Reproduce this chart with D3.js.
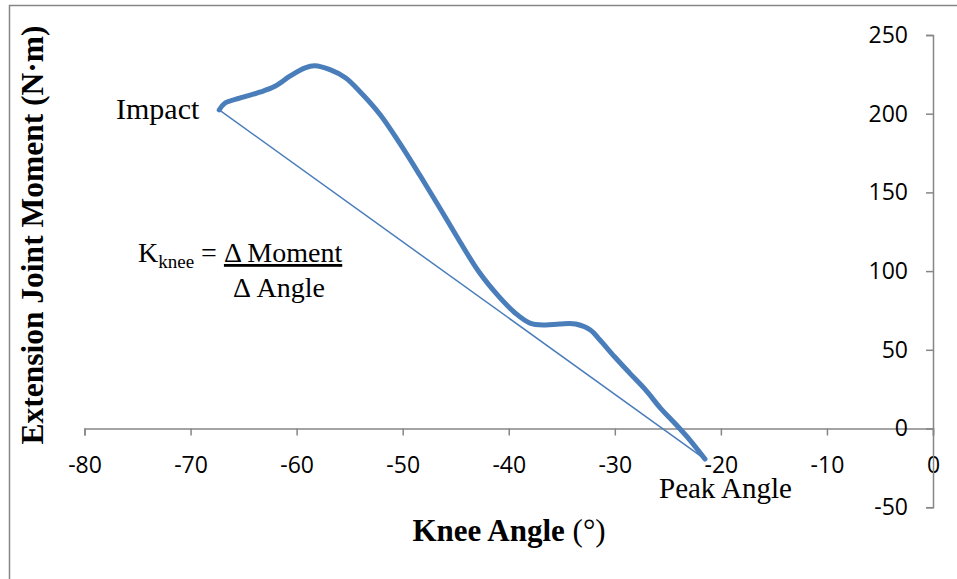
<!DOCTYPE html>
<html>
<head>
<meta charset="utf-8">
<script src="https://cdn.jsdelivr.net/npm/d3@7"></script>
<style>
  html, body { margin: 0; padding: 0; background: #fff; }
  svg { display: block; }
</style>
</head>
<body>
<svg id="chart" width="957" height="579"></svg>
<script>
// ---- data ----
const kneeAngle = [-67.3, -66.8, -65.3, -63.4, -62.0, -60.6, -59.2, -58.3, -56.8, -55.4, -54.0, -52.1, -50.3, -48.4, -46.5, -44.7, -42.8, -40.9, -39.4, -38.0, -36.6, -35.2, -33.7, -32.3, -31.4, -30.0, -28.6, -27.1, -25.7, -24.3, -22.9, -21.5];
const jointMoment = [202.4, 206.5, 210.0, 213.8, 217.6, 224.0, 229.1, 230.4, 227.8, 222.8, 213.8, 199.2, 181.4, 161.1, 140.1, 119.8, 99.4, 83.6, 73.4, 67.0, 65.8, 66.4, 66.4, 62.6, 56.2, 45.4, 35.2, 24.5, 13.0, 3.0, -7.5, -19.4];
const xTicks = [-80, -70, -60, -50, -40, -30, -20, -10, 0];
const yTicks = [-50, 0, 50, 100, 150, 200, 250];
const xTitle = "Knee Angle";
const xTitleUnit = " (°)";
const yTitle = "Extension Joint Moment (N·m)";

const svg = d3.select("#chart");

// outer chart border
svg.append("rect")
  .attr("x", 9.5).attr("y", 5.5)
  .attr("width", 960).attr("height", 590)
  .attr("fill", "none").attr("stroke", "#868686").attr("stroke-width", 1.5);

const x = d3.scaleLinear().domain([-80, 0]).range([84.5, 933]);
const y = d3.scaleLinear().domain([-50, 250]).range([507.2, 35]);

const tickFont = "'Open Sans', 'Liberation Sans', sans-serif";
const axisColor = "#868686";

// x axis at y = 0
const gx = svg.append("g")
  .attr("transform", `translate(0,${y(0)})`)
  .call(d3.axisBottom(x).tickValues(xTicks).tickSize(7).tickPadding(21).tickFormat(d3.format("d")));
// y axis at x = 0
const gy = svg.append("g")
  .attr("transform", `translate(${x(0)},0)`)
  .call(d3.axisLeft(y).tickValues(yTicks).tickSize(7).tickPadding(18).tickFormat(d3.format("d")));

[gx, gy].forEach(g => {
  g.select(".domain").attr("stroke", axisColor).attr("stroke-width", 1.5);
  g.selectAll(".tick line").attr("stroke", axisColor).attr("stroke-width", 1.5);
  g.selectAll(".tick text")
    .attr("fill", "#000")
    .style("font-family", tickFont)
    .style("font-size", "23px");
});
gx.selectAll(".tick text").text(d => String(d));
gy.selectAll(".tick text").text(d => String(d));

// straight secant line from Impact to Peak Angle
const n = kneeAngle.length;
svg.append("line")
  .attr("x1", x(kneeAngle[0])).attr("y1", y(jointMoment[0]))
  .attr("x2", x(kneeAngle[n - 1])).attr("y2", y(jointMoment[n - 1]))
  .attr("stroke", "#4a7ebb").attr("stroke-width", 1.5);

// moment-angle curve
const pts = kneeAngle.map((a, i) => [a, jointMoment[i]]);
svg.append("path")
  .datum(pts)
  .attr("fill", "none")
  .attr("stroke", "#4a7ebb")
  .attr("stroke-width", 5)
  .attr("stroke-linejoin", "round")
  .attr("stroke-linecap", "round")
  .attr("d", d3.line().x(d => x(d[0])).y(d => y(d[1])).curve(d3.curveCatmullRom.alpha(0.5)));

const serif = "'Liberation Serif', 'Times New Roman', serif";

// annotations
svg.append("text")
  .attr("x", 116).attr("y", 119)
  .style("font-family", serif).style("font-size", "30px")
  .text("Impact");

svg.append("text")
  .attr("x", 659).attr("y", 498)
  .style("font-family", serif).style("font-size", "29px")
  .text("Peak Angle");

// formula
const f = svg.append("text")
  .attr("x", 138).attr("y", 262)
  .style("font-family", serif).style("font-size", "28px");
f.append("tspan").text("K");
f.append("tspan").attr("dy", 6).style("font-size", "19px").text("knee");
f.append("tspan").attr("dy", -6).text(" = ");
f.append("tspan").style("text-decoration", "underline").text("Δ Moment");

svg.append("text")
  .attr("x", 279).attr("y", 297)
  .attr("text-anchor", "middle")
  .style("font-family", serif).style("font-size", "28px")
  .text("Δ Angle");

// axis titles
const xt = svg.append("text")
  .attr("x", 509).attr("y", 541)
  .attr("text-anchor", "middle")
  .style("font-family", serif).style("font-size", "31px");
xt.append("tspan").style("font-weight", "bold").text(xTitle);
xt.append("tspan").text(xTitleUnit);

svg.append("text")
  .attr("transform", `translate(43,235) rotate(-90)`)
  .attr("text-anchor", "middle")
  .style("font-family", serif).style("font-size", "31.5px").style("font-weight", "bold")
  .text(yTitle);
</script>
</body>
</html>
